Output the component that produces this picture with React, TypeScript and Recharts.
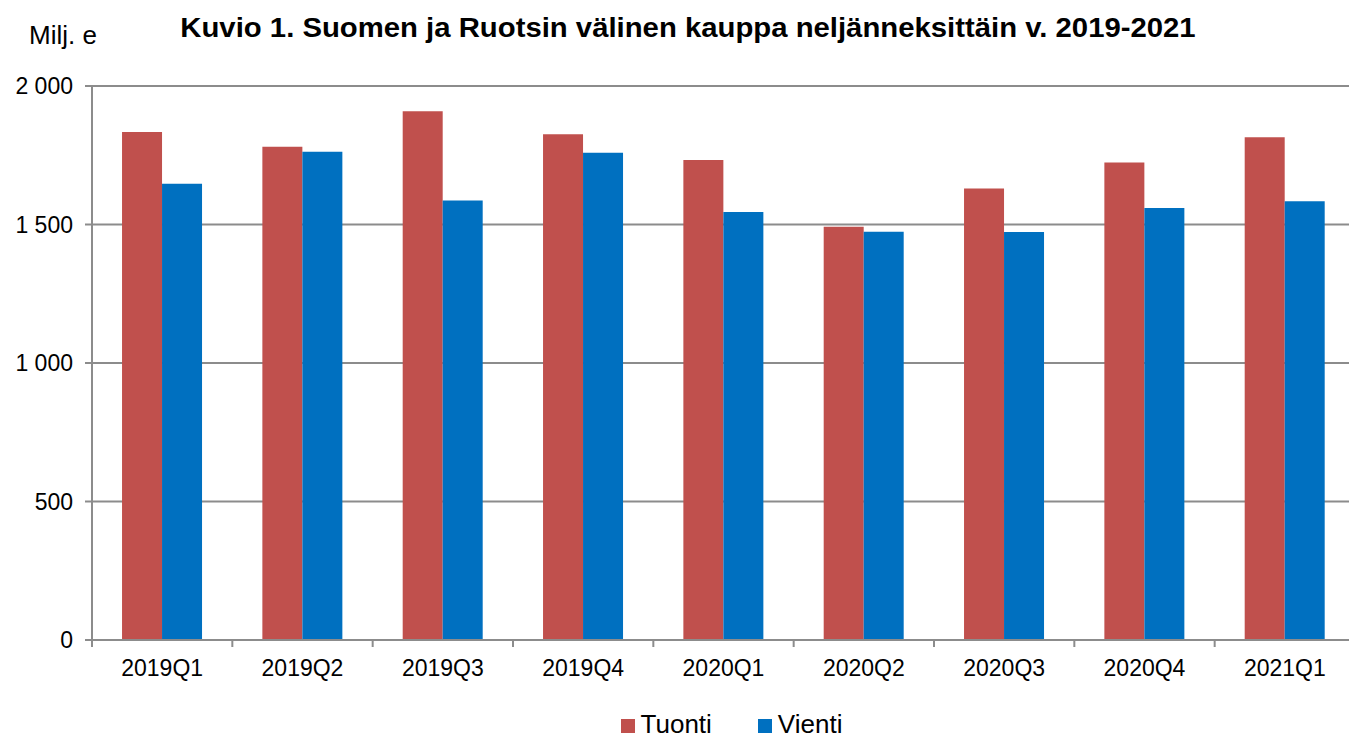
import React from "react";
import { BarChart, Bar, XAxis, YAxis, CartesianGrid, Legend } from "recharts";

const quarters = ["2019Q1", "2019Q2", "2019Q3", "2019Q4", "2020Q1", "2020Q2", "2020Q3", "2020Q4", "2021Q1"];
const tuonti = [1834, 1781, 1909, 1826, 1733, 1492, 1630, 1724, 1815];
const vienti = [1647, 1763, 1587, 1759, 1545, 1474, 1473, 1560, 1584];
const yTicks = [0, 500, 1000, 1500, 2000];

const data = quarters.map((q, i) => ({ q, Tuonti: tuonti[i], Vienti: vienti[i] }));

const FONT = "'Liberation Sans', Arial, sans-serif";
const RED = "#C0504D";
const BLUE = "#0070C0";
const GRID = "#8c8c8c";

const fmt = (v: number) => (v >= 1000 ? `${Math.floor(v / 1000)} ${String(v % 1000).padStart(3, "0")}` : String(v));

// category label + tick marks on the category boundaries (offset = half band from the scale)
function XTick({ x, y, payload, index, visibleTicksCount }: any) {
  const half = payload.offset || 0;
  const last = index === visibleTicksCount - 1;
  return (
    <g>
      <line x1={x - half} x2={x - half} y1={y} y2={y + 7} stroke={GRID} strokeWidth={2} />
      {last && <line x1={x + half} x2={x + half} y1={y} y2={y + 7} stroke={GRID} strokeWidth={2} />}
      <text x={x} y={y + 36} textAnchor="middle" fill="#000" fontSize={23} fontFamily={FONT}>
        {payload.value}
      </text>
    </g>
  );
}

function LegendContent({ payload }: any) {
  return (
    <div
      style={{
        display: "flex",
        justifyContent: "center",
        fontFamily: FONT,
        fontSize: 26,
        lineHeight: "28px",
        color: "#000",
        paddingTop: 30,
        marginLeft: 108,
      }}
    >
      {(payload || []).map((p: any, i: number) => (
        <div key={p.value} style={{ display: "flex", alignItems: "center", marginLeft: i > 0 ? 46 : 0 }}>
          <span style={{ display: "inline-block", width: 14, height: 14, background: p.color, marginRight: 6, marginTop: 4 }} />
          <span>{p.value}</span>
        </div>
      ))}
    </div>
  );
}

export default function App() {
  return (
    <div style={{ position: "fixed", left: 0, top: 0, width: 1349, height: 740, overflow: "hidden", background: "#fff" }}>
      <div
        style={{
          position: "absolute",
          left: 688,
          top: 15,
          transform: "translateX(-50%) scaleX(1.085)",
          whiteSpace: "nowrap",
          fontFamily: FONT,
          fontWeight: "bold",
          fontSize: 27,
          lineHeight: "27px",
          color: "#000",
        }}
      >
        Kuvio 1. Suomen ja Ruotsin välinen kauppa neljänneksittäin v. 2019-2021
      </div>
      <div
        style={{
          position: "absolute",
          left: 29,
          top: 22,
          fontFamily: FONT,
          fontSize: 26,
          lineHeight: "26px",
          color: "#000",
        }}
      >
        Milj. e
      </div>
      <BarChart
        width={1360}
        height={740}
        data={data}
        margin={{ top: 86, right: 5, left: 0, bottom: 0 }}
        barCategoryGap="21.4%"
        barGap={0}
      >
        <CartesianGrid vertical={false} stroke={GRID} strokeWidth={2} />
        <XAxis
          dataKey="q"
          stroke={GRID}
          strokeWidth={2}
          tickLine={false}
          tickSize={0}
          tickMargin={0}
          height={40}
          tick={<XTick />}
          interval={0}
        />
        <YAxis
          width={92}
          domain={[0, 2000]}
          ticks={yTicks}
          tickFormatter={fmt}
          tick={{ fill: "#000", fontSize: 23, fontFamily: FONT }}
          tickSize={7}
          tickMargin={12}
          stroke={GRID}
          strokeWidth={2}
        />
        <Legend verticalAlign="bottom" content={<LegendContent />} height={60} />
        <Bar dataKey="Tuonti" fill={RED} isAnimationActive={false} />
        <Bar dataKey="Vienti" fill={BLUE} isAnimationActive={false} />
      </BarChart>
    </div>
  );
}
